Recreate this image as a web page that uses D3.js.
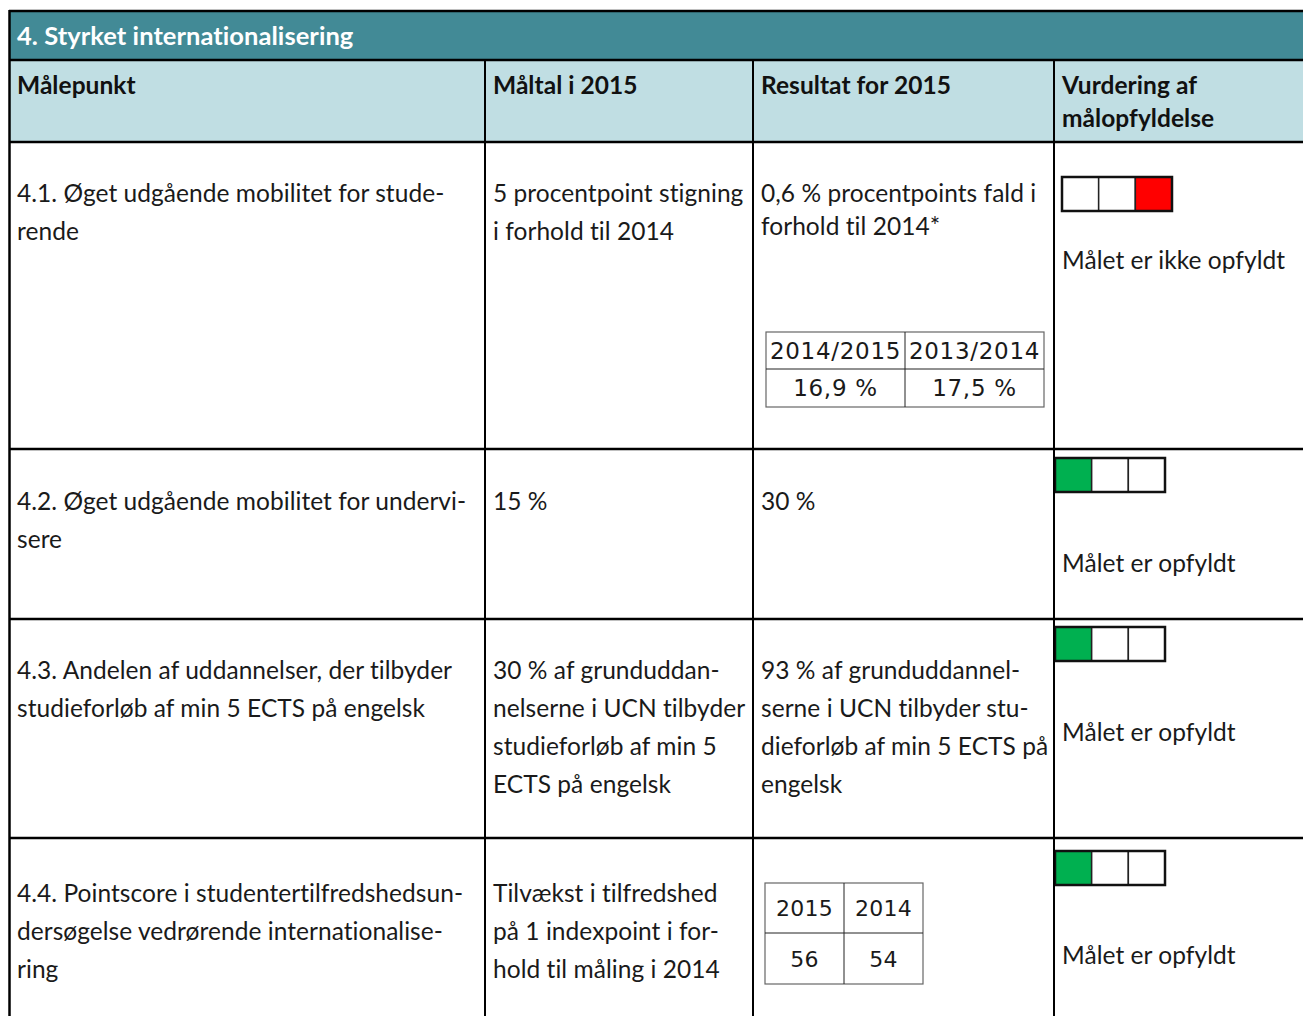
<!DOCTYPE html>
<html><head><meta charset="utf-8">
<script src="https://cdn.jsdelivr.net/npm/d3@7"></script>
<style>body{margin:0;background:#fff}svg{display:block}text{font-variant-ligatures:none;font-feature-settings:"liga" 0,"clig" 0,"dlig" 0,"calt" 0}</style>
</head><body>
<script>
// ---------- data ----------
const title = "4. Styrket internationalisering";
const headers = [["Målepunkt"], ["Måltal i 2015"], ["Resultat for 2015"], ["Vurdering af", "målopfyldelse"]];
const measures = [
  ["4.1. Øget udgående mobilitet for stude-", "rende"],
  ["4.2. Øget udgående mobilitet for undervi-", "sere"],
  ["4.3. Andelen af uddannelser, der tilbyder", "studieforløb af min 5 ECTS på engelsk"],
  ["4.4. Pointscore i studentertilfredshedsun-", "dersøgelse vedrørende internationalise-", "ring"]
];
const targets = [
  ["5 procentpoint stigning", "i forhold til 2014"],
  ["15 %"],
  ["30 % af grunduddan-", "nelserne i UCN tilbyder", "studieforløb af min 5", "ECTS på engelsk"],
  ["Tilvækst i tilfredshed", "på 1 indexpoint i for-", "hold til måling i 2014"]
];
const results = [
  ["0,6 % procentpoints fald i", "forhold til 2014*"],
  ["30 %"],
  ["93 % af grunduddannel-", "serne i UCN tilbyder stu-", "dieforløb af min 5 ECTS på", "engelsk"],
  []
];
const ratingLevels = [0, 1, 2];            // green, yellow, red positions
const ratings = [2, 0, 0, 0];              // filled cell per row
const ratingLabels = ["Målet er ikke opfyldt", "Målet er opfyldt", "Målet er opfyldt", "Målet er opfyldt"];
const mobilityYears = ["2014/2015", "2013/2014"];
const mobilityValues = ["16,9 %", "17,5 %"];
const satisfactionYears = ["2015", "2014"];
const satisfactionValues = ["56", "54"];

// ---------- layout ----------
const W = 1303, H = 1016;
const colEdges = [9, 485, 753, 1054, 1320];
const rowEdges = [142, 449, 619, 838, 1040];
const colPad = [8, 8, 8, 8];
const ratingBoxX = [1062, 1055, 1055, 1055];
const ratingBoxY = [35, 9, 8, 13];
const labelOffset = [119, 115, 114, 118];
const textTop = [60, 61, 60, 64];
const lineH = [38, 38, 38, 38];
const resultLineH = [33, 38, 38, 38];
const fillColor = { 0: "#00B050", 1: "#FFC000", 2: "#FF0000" };
const FONT = "Lato, 'Open Sans', sans-serif";
const SUBFONT = "'DejaVu Sans', Verdana, sans-serif";
const fs = 24.5;
const LS = 0.05;

const svg = d3.select("body").append("svg").attr("width", W).attr("height", H)
  .style("font-family", FONT);

// title band
svg.append("rect").attr("x", 9).attr("y", 11).attr("width", W).attr("height", 49).attr("fill", "#428A96");
svg.append("text").attr("x", 17).attr("y", 45).attr("fill", "#fff").attr("font-weight", "bold")
  .attr("font-size", 25.5).attr("letter-spacing", LS).text(title);
// header band
svg.append("rect").attr("x", 9).attr("y", 60).attr("width", W).attr("height", 82).attr("fill", "#C0DEE3");

const hdr = svg.append("g").selectAll("text").data(headers).join("text")
  .attr("font-weight", "bold").attr("font-size", fs).attr("letter-spacing", LS).attr("fill", "#111");
hdr.each(function(lines, i) {
  d3.select(this).selectAll("tspan").data(lines).join("tspan")
    .attr("x", colEdges[i] + colPad[i]).attr("y", (d, j) => 94 + j * 33).text(d => d);
});

// body text
function drawLines(col, arr, lh) {
  arr.forEach((lines, r) => {
    svg.append("text").attr("font-size", fs).attr("letter-spacing", LS).attr("fill", "#1a1a1a")
      .selectAll("tspan").data(lines).join("tspan")
      .attr("x", colEdges[col] + colPad[col])
      .attr("y", (d, j) => rowEdges[r] + textTop[r] + j * lh[r])
      .text(d => d);
  });
}
drawLines(0, measures, lineH);
drawLines(1, targets, lineH);
drawLines(2, results, resultLineH);

// rating boxes
const cellX = d3.scaleBand().domain(ratingLevels).range([0, 110]).padding(0);
ratings.forEach((rt, r) => {
  const g = svg.append("g").attr("transform", `translate(${ratingBoxX[r]},${rowEdges[r] + ratingBoxY[r]})`);
  g.selectAll("rect").data(ratingLevels).join("rect")
    .attr("x", d => cellX(d)).attr("y", 0).attr("width", cellX.bandwidth()).attr("height", 34)
    .attr("fill", d => d === rt ? fillColor[d] : "#fff")
    .attr("stroke", "#222").attr("stroke-width", 1.5);
  g.append("rect").attr("x", 0).attr("y", 0).attr("width", 110).attr("height", 34)
    .attr("fill", "none").attr("stroke", "#111").attr("stroke-width", 2.5);
  svg.append("text").attr("x", 1062).attr("y", rowEdges[r] + labelOffset[r] + 8)
    .attr("font-size", fs).attr("letter-spacing", LS).attr("fill", "#1a1a1a").text(ratingLabels[r]);
});

// sub tables
function subTable(x0, y0, colW, rowHs, heads, vals, fsize, ls) {
  const g = svg.append("g").attr("transform", `translate(${x0},${y0})`).style("font-family", SUBFONT);
  const xs = d3.scaleBand().domain(heads.map((d, i) => i)).range([0, colW * heads.length]);
  const totalH = rowHs[0] + rowHs[1];
  g.append("rect").attr("width", colW * heads.length).attr("height", totalH)
    .attr("fill", "#fff").attr("stroke", "#666").attr("stroke-width", 1.2);
  g.append("line").attr("x1", 0).attr("x2", colW * heads.length).attr("y1", rowHs[0]).attr("y2", rowHs[0])
    .attr("stroke", "#222").attr("stroke-width", 1);
  heads.forEach((h, i) => {
    if (i > 0) g.append("line").attr("x1", xs(i)).attr("x2", xs(i)).attr("y1", 0).attr("y2", totalH)
      .attr("stroke", "#222").attr("stroke-width", 1);
  });
  g.selectAll("text.h").data(heads).join("text").attr("class", "h")
    .attr("x", (d, i) => xs(i) + colW / 2).attr("y", rowHs[0] / 2 + 8)
    .attr("text-anchor", "middle").attr("font-size", fsize).attr("letter-spacing", ls)
    .attr("fill", "#1a1a1a").text(d => d);
  g.selectAll("text.v").data(vals).join("text").attr("class", "v")
    .attr("x", (d, i) => xs(i) + colW / 2).attr("y", rowHs[0] + rowHs[1] / 2 + 8)
    .attr("text-anchor", "middle").attr("font-size", fsize).attr("letter-spacing", ls)
    .attr("fill", "#1a1a1a").text(d => d);
}
subTable(766, 332, 139, [37, 38], mobilityYears, mobilityValues, 23, 0.7);
subTable(765, 883, 79, [50, 51], satisfactionYears, satisfactionValues, 22, 0.3);

// grid lines
const lineG = svg.append("g").attr("stroke", "#000");
lineG.append("line").attr("x1", 9).attr("x2", W).attr("y1", 11).attr("y2", 11).attr("stroke-width", 2.5);
lineG.append("line").attr("x1", 9).attr("x2", W).attr("y1", 60).attr("y2", 60).attr("stroke-width", 2.5);
rowEdges.slice(0, 4).forEach(y => lineG.append("line").attr("x1", 9).attr("x2", W).attr("y1", y).attr("y2", y).attr("stroke-width", 2.5));
lineG.append("line").attr("x1", 9.5).attr("x2", 9.5).attr("y1", 10).attr("y2", H).attr("stroke-width", 2.5);
colEdges.slice(1, 4).forEach(x => lineG.append("line").attr("x1", x).attr("x2", x).attr("y1", 60).attr("y2", H).attr("stroke-width", 2));
</script>
</body></html>
